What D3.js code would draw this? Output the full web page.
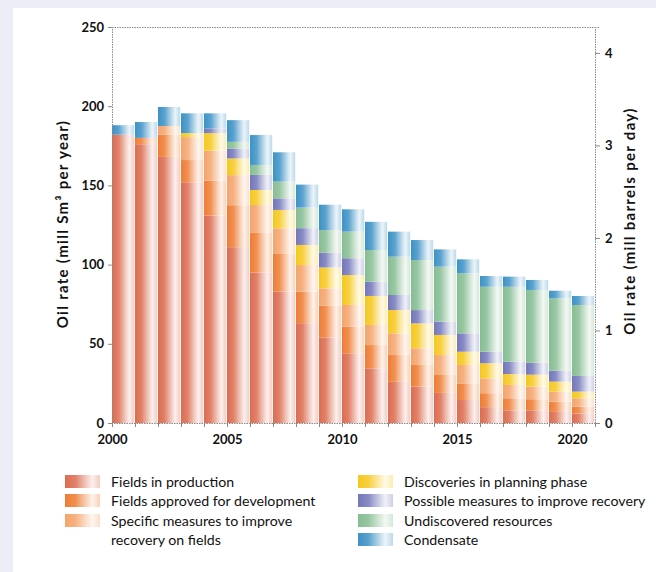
<!DOCTYPE html>
<html>
<head>
<meta charset="utf-8">
<script src="https://cdn.jsdelivr.net/npm/d3@7"></script>
<style>
  body { margin: 0; background: #ededf7; }
  svg { display: block; }
  text { font-family: Lato, "Open Sans", sans-serif; fill: #111; }
</style>
</head>
<body>
<svg id="chart" width="656" height="572"></svg>
<script>
// Oil production forecast by resource category, mill Sm3 per year
const years = d3.range(2000, 2021);

const fieldsInProduction   = [182, 176, 168, 152, 131, 111, 95, 83, 63, 54, 44, 34.5, 26, 23, 19, 14.5, 10, 8, 8, 7, 6];
const fieldsApproved       = [0, 4, 14, 14, 22, 26.5, 25, 24.1, 20, 20, 16.8, 14.7, 16.9, 13.6, 11.3, 10.5, 8.8, 7.6, 7, 6.5, 4.3];
const specificMeasures     = [0, 0, 5.5, 14.5, 19, 19, 17.6, 15.8, 16.7, 11, 13.7, 12.7, 13.7, 10.6, 12.6, 11.6, 9.4, 8.4, 8, 6.3, 5.3];
const discoveriesPlanning  = [0, 0, 0, 2.5, 11, 10.5, 9.5, 11.6, 12.7, 13.2, 18.9, 18.3, 14.7, 15.7, 12.7, 8.4, 9.5, 6.9, 7.5, 6.3, 4.2];
const possibleMeasures     = [0, 0, 0, 0, 3, 6.3, 9.5, 7.3, 10.6, 9.4, 10.6, 9, 9.5, 8.4, 8.4, 11.6, 7.3, 7.8, 7.5, 6.9, 9.9];
const undiscovered         = [0, 0, 0, 0, 0, 4.2, 6.3, 10.6, 13, 14.2, 16.8, 20, 24.2, 31.6, 34.7, 37.9, 41, 47.3, 46, 45.7, 44.8];
const condensate           = [6, 10, 12, 12.5, 9.5, 13.7, 18.9, 18.5, 14.5, 16, 14.1, 17.8, 15.8, 12.6, 10.9, 8.8, 6.8, 6.4, 6.3, 4.8, 5.7];

const seriesKeys = ["fip", "app", "spec", "disc", "poss", "und", "cond"];
const seriesLabels = [
  ["Fields in production"],
  ["Fields approved for development"],
  ["Specific measures to improve", "recovery on fields"],
  ["Discoveries in planning phase"],
  ["Possible measures to improve recovery"],
  ["Undiscovered resources"],
  ["Condensate"]
];
const seriesColors = ["#dc6c50", "#ef7c34", "#f4a46c", "#f5c81e", "#7377b9", "#86bd93", "#3d92c6"];
const seriesValues = [fieldsInProduction, fieldsApproved, specificMeasures, discoveriesPlanning,
                      possibleMeasures, undiscovered, condensate];

const leftTicks = [0, 50, 100, 150, 200, 250];
const rightTicks = [0, 1, 2, 3, 4];
const yearLabels = [2000, 2005, 2010, 2015, 2020];
const barrelsAxisMax = 4.28;  // 250 mill Sm3/yr expressed in mill barrels/day

const leftTitle = "Oil rate (mill Sm³ per year)";
const rightTitle = "Oil rate (mill barrels per day)";

// table for the stack layout
const table = years.map((yr, i) => {
  const row = { year: yr };
  seriesKeys.forEach((k, j) => row[k] = seriesValues[j][i]);
  return row;
});

const svg = d3.select("#chart");

// white panel
svg.append("rect").attr("x", 13).attr("y", 8).attr("width", 643).attr("height", 564).attr("fill", "#ffffff");

const plot = { left: 112, right: 595, top: 27, bottom: 423 };

const x = d3.scaleLinear().domain([2000, 2021]).range([plot.left, plot.right]);
const y = d3.scaleLinear().domain([0, 250]).range([plot.bottom, plot.top]);
const yRight = d3.scaleLinear().domain([0, barrelsAxisMax]).range([plot.bottom, plot.top]);

// horizontal shading gradients: saturated on the left, washed out to the right
const defs = svg.append("defs");
seriesKeys.forEach((k, j) => {
  const c = seriesColors[j];
  const mix = t => d3.interpolateRgb(c, "#ffffff")(t);
  const g = defs.append("linearGradient").attr("id", "grad-" + k)
    .attr("x1", 0).attr("x2", 1).attr("y1", 0).attr("y2", 0);
  [[0, mix(0.0)], [0.3, mix(0.15)], [0.55, mix(0.55)], [0.78, mix(0.9)], [1, mix(0.65)]]
    .forEach(([o, col]) => g.append("stop").attr("offset", o).attr("stop-color", col));
});

const stacked = d3.stack().keys(seriesKeys)(table);

const barW = x(2001) - x(2000);
svg.append("g").selectAll("g").data(stacked).join("g")
  .attr("fill", d => "url(#grad-" + d.key + ")")
  .selectAll("rect").data(d => d).join("rect")
  .attr("x", d => x(d.data.year))
  .attr("width", barW - 0.8)
  .attr("y", d => y(d[1]))
  .attr("height", d => Math.max(0, y(d[0]) - y(d[1])));

// frame: dotted grey top line
svg.append("line").attr("stroke", "#8a8a8a").attr("stroke-dasharray", "1.5,1")
  .attr("x1", plot.left).attr("x2", plot.right).attr("y1", plot.top + 0.5).attr("y2", plot.top + 0.5);

// left axis
const axL = svg.append("g").attr("transform", `translate(${plot.left},0)`)
  .call(d3.axisLeft(y).tickValues(leftTicks).tickSize(4).tickPadding(4));
// right axis
const axR = svg.append("g").attr("transform", `translate(${plot.right},0)`)
  .call(d3.axisRight(yRight).tickValues(rightTicks).tickFormat(d3.format("d")).tickSize(5).tickPadding(5));
// bottom axis
const axB = svg.append("g").attr("transform", `translate(0,${plot.bottom})`)
  .call(d3.axisBottom(x).tickValues(d3.range(2000, 2022)).tickSize(4).tickPadding(7)
    .tickFormat(d => yearLabels.includes(d) ? d : ""));

[axL, axR, axB].forEach(a => {
  a.selectAll("path.domain").attr("stroke", "#8a8a8a").attr("stroke-dasharray", "1.5,1");
  a.selectAll(".tick line").attr("stroke", "#8a8a8a");
  a.selectAll("text").style("font-family", "Lato, sans-serif").style("font-size", "13px")
    .style("font-weight", "bold").attr("fill", "#111");
});
axB.selectAll("text").attr("dy", "0.8em");

// axis titles
svg.append("text")
  .attr("transform", `translate(68,224) rotate(-90)`)
  .attr("text-anchor", "middle")
  .style("font-size", "15px").style("font-weight", "bold").style("letter-spacing", "1.3px")
  .text(leftTitle);
svg.append("text")
  .attr("transform", `translate(635,221) rotate(-90)`)
  .attr("text-anchor", "middle")
  .style("font-size", "15px").style("font-weight", "bold").style("letter-spacing", "1.3px")
  .text(rightTitle);

// legend: two columns
const legendPos = [
  { x: 65, y: 475 }, { x: 65, y: 494 }, { x: 65, y: 514 },
  { x: 358, y: 475 }, { x: 358, y: 494 }, { x: 358, y: 514 }, { x: 358, y: 533 }
];
const legend = svg.append("g");
seriesKeys.forEach((k, j) => {
  const p = legendPos[j];
  legend.append("rect").attr("x", p.x).attr("y", p.y).attr("width", 35).attr("height", 13)
    .attr("fill", "url(#grad-" + k + ")");
  const t = legend.append("text").attr("x", p.x + 46).attr("y", p.y + 11.5)
    .style("font-size", "14.2px");
  seriesLabels[j].forEach((line, li) => {
    t.append("tspan").attr("x", p.x + 46).attr("dy", li === 0 ? 0 : 19.5).text(line);
  });
});
</script>
</body>
</html>
